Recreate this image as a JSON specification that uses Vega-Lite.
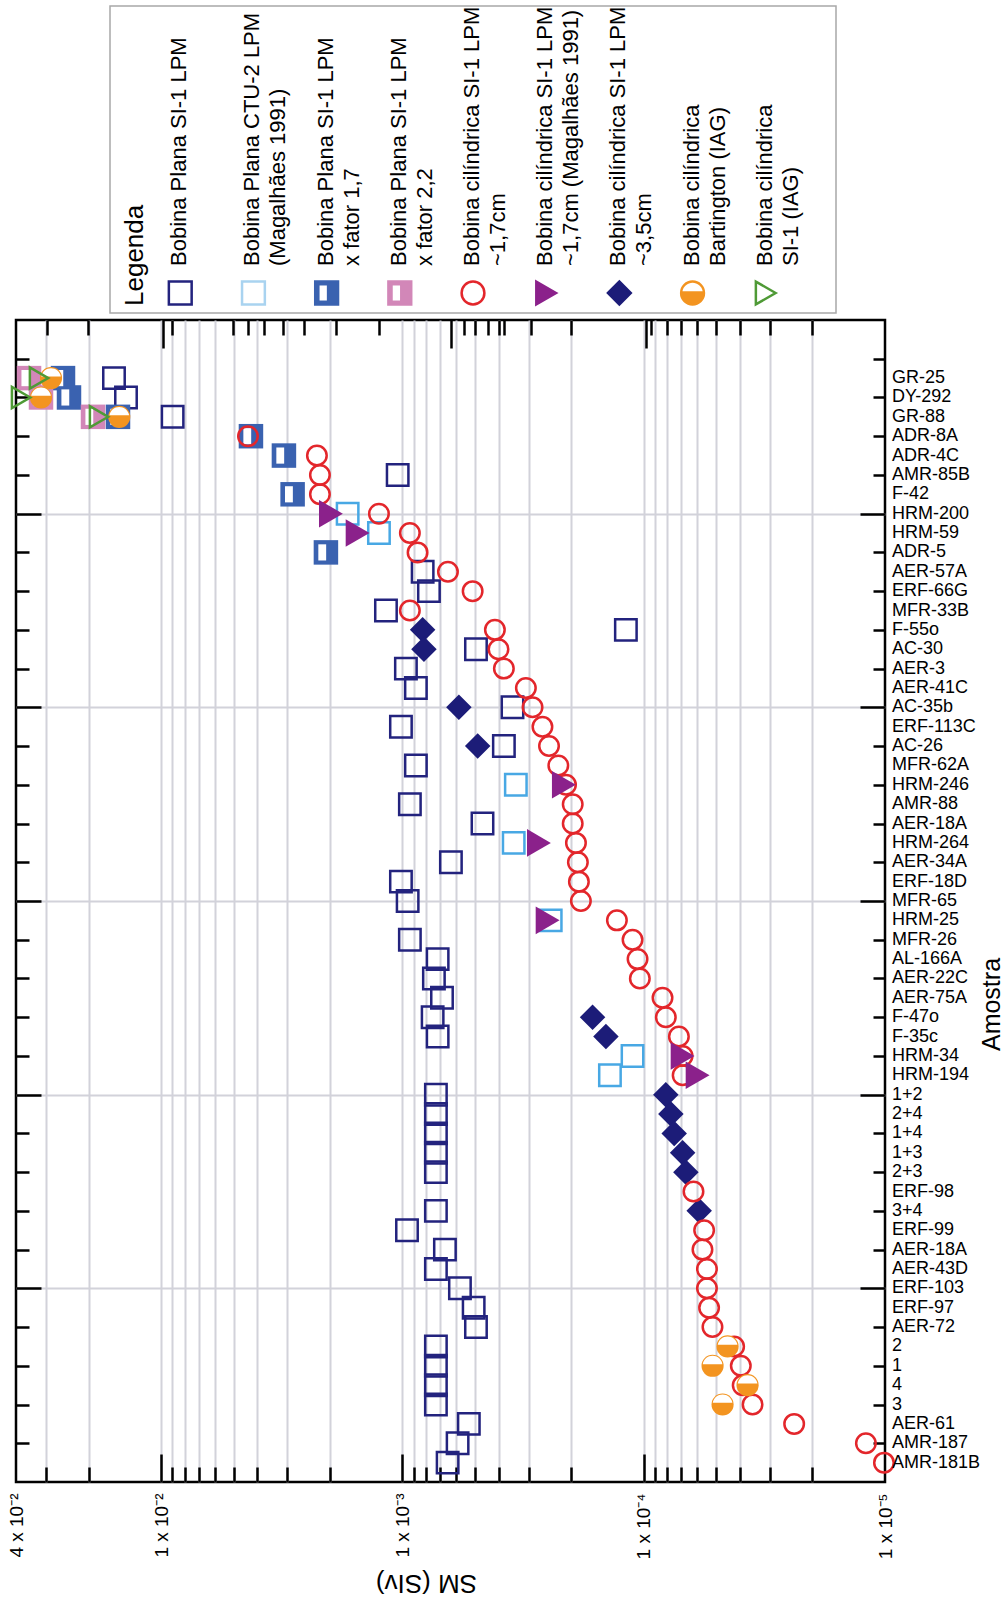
{
 "$schema": "https://vega.github.io/schema/vega-lite/v6.json",
 "padding": {"left": 5, "top": 5, "right": 0, "bottom": 0},
 "background": "white",
 "spacing": 3,
 "config": {
  "view": {"stroke": null},
  "font": "Liberation Sans",
  "axis": {"labelFont": "Liberation Sans", "titleFont": "Liberation Sans", "labelColor": "black", "titleColor": "black", "tickColor": "black", "tickWidth": 2.5, "gridColor": "#d2d2da", "gridWidth": 2, "domain": false, "titleFontWeight": "normal", "labelFlush": false, "labelOverlap": false, "labelBound": false}
 },
 "datasets": {
  "leg": [
   {"s": "plana", "label": "Bobina Plana SI-1 LPM"},
   {"s": "ctu2", "label": "Bobina Plana CTU-2 LPM\n (Magalhães 1991)"},
   {"s": "f17", "label": "Bobina Plana SI-1 LPM\nx fator 1,7"},
   {"s": "f22", "label": "Bobina Plana SI-1 LPM\nx fator 2,2"},
   {"s": "cil17", "label": "Bobina cilíndrica SI-1 LPM\n  ~1,7cm"},
   {"s": "mag17", "label": "Bobina cilíndrica SI-1 LPM\n ~1,7cm (Magalhães 1991)"},
   {"s": "cil35", "label": "Bobina cilíndrica SI-1 LPM\n      ~3,5cm"},
   {"s": "bart", "label": "Bobina cilíndrica\n Bartington (IAG)"},
   {"s": "iag", "label": "Bobina cilíndrica\nSI-1 (IAG)"}
  ],
  "head": [{"h": "Legenda"}],
  "samples": [
   {"i": 0, "name": "GR-25"}, {"i": 1, "name": "DY-292"}, {"i": 2, "name": "GR-88"}, {"i": 3, "name": "ADR-8A"}, {"i": 4, "name": "ADR-4C"}, {"i": 5, "name": "AMR-85B"}, {"i": 6, "name": "F-42"}, {"i": 7, "name": "HRM-200"}, {"i": 8, "name": "HRM-59"}, {"i": 9, "name": "ADR-5"},
   {"i": 10, "name": "AER-57A"}, {"i": 11, "name": "ERF-66G"}, {"i": 12, "name": "MFR-33B"}, {"i": 13, "name": "F-55o"}, {"i": 14, "name": "AC-30"}, {"i": 15, "name": "AER-3"}, {"i": 16, "name": "AER-41C"}, {"i": 17, "name": "AC-35b"}, {"i": 18, "name": "ERF-113C"}, {"i": 19, "name": "AC-26"},
   {"i": 20, "name": "MFR-62A"}, {"i": 21, "name": "HRM-246"}, {"i": 22, "name": "AMR-88"}, {"i": 23, "name": "AER-18A"}, {"i": 24, "name": "HRM-264"}, {"i": 25, "name": "AER-34A"}, {"i": 26, "name": "ERF-18D"}, {"i": 27, "name": "MFR-65"}, {"i": 28, "name": "HRM-25"}, {"i": 29, "name": "MFR-26"},
   {"i": 30, "name": "AL-166A"}, {"i": 31, "name": "AER-22C"}, {"i": 32, "name": "AER-75A"}, {"i": 33, "name": "F-47o"}, {"i": 34, "name": "F-35c"}, {"i": 35, "name": "HRM-34"}, {"i": 36, "name": "HRM-194"}, {"i": 37, "name": "1+2"}, {"i": 38, "name": "2+4"}, {"i": 39, "name": "1+4"},
   {"i": 40, "name": "1+3"}, {"i": 41, "name": "2+3"}, {"i": 42, "name": "ERF-98"}, {"i": 43, "name": "3+4"}, {"i": 44, "name": "ERF-99"}, {"i": 45, "name": "AER-18A"}, {"i": 46, "name": "AER-43D"}, {"i": 47, "name": "ERF-103"}, {"i": 48, "name": "ERF-97"}, {"i": 49, "name": "AER-72"},
   {"i": 50, "name": "2"}, {"i": 51, "name": "1"}, {"i": 52, "name": "4"}, {"i": 53, "name": "3"}, {"i": 54, "name": "AER-61"}, {"i": 55, "name": "AMR-187"}, {"i": 56, "name": "AMR-181B"}
  ],
  "pts": [
   {"s": "plana", "i": 0, "v": 0.0157}, {"s": "plana", "i": 1, "v": 0.014}, {"s": "plana", "i": 2, "v": 0.00897}, {"s": "plana", "i": 5, "v": 0.001047}, {"s": "plana", "i": 10, "v": 0.000825}, {"s": "plana", "i": 11, "v": 0.000777}, {"s": "plana", "i": 12, "v": 0.001171}, {"s": "plana", "i": 13, "v": 0.0001186}, {"s": "plana", "i": 14, "v": 0.000496}, {"s": "plana", "i": 15, "v": 0.000968}, {"s": "plana", "i": 16, "v": 0.00088}, {"s": "plana", "i": 17, "v": 0.00035}, {"s": "plana", "i": 18, "v": 0.001015}, {"s": "plana", "i": 19, "v": 0.00038}, {"s": "plana", "i": 20, "v": 0.00088}, {"s": "plana", "i": 22, "v": 0.000932}, {"s": "plana", "i": 23, "v": 0.000466}, {"s": "plana", "i": 25, "v": 0.00063}, {"s": "plana", "i": 26, "v": 0.001015}, {"s": "plana", "i": 27, "v": 0.000952}, {"s": "plana", "i": 29, "v": 0.000932}, {"s": "plana", "i": 30, "v": 0.000715}, {"s": "plana", "i": 31, "v": 0.000741}, {"s": "plana", "i": 32, "v": 0.000686}, {"s": "plana", "i": 33, "v": 0.00075}, {"s": "plana", "i": 34, "v": 0.000715}, {"s": "plana", "i": 37, "v": 0.000727}, {"s": "plana", "i": 38, "v": 0.000727}, {"s": "plana", "i": 39, "v": 0.000727}, {"s": "plana", "i": 40, "v": 0.000727}, {"s": "plana", "i": 41, "v": 0.000727}, {"s": "plana", "i": 43, "v": 0.000727}, {"s": "plana", "i": 44, "v": 0.000958}, {"s": "plana", "i": 45, "v": 0.000667}, {"s": "plana", "i": 46, "v": 0.000727}, {"s": "plana", "i": 47, "v": 0.000578}, {"s": "plana", "i": 48, "v": 0.000507}, {"s": "plana", "i": 49, "v": 0.000496}, {"s": "plana", "i": 50, "v": 0.000727}, {"s": "plana", "i": 51, "v": 0.000727}, {"s": "plana", "i": 52, "v": 0.000727}, {"s": "plana", "i": 53, "v": 0.000727}, {"s": "plana", "i": 54, "v": 0.000531}, {"s": "plana", "i": 55, "v": 0.000591}, {"s": "plana", "i": 56, "v": 0.00065},
   {"s": "ctu2", "i": 7, "v": 0.001688}, {"s": "ctu2", "i": 8, "v": 0.001252}, {"s": "ctu2", "i": 21, "v": 0.000339}, {"s": "ctu2", "i": 24, "v": 0.000346}, {"s": "ctu2", "i": 28, "v": 0.000243}, {"s": "ctu2", "i": 35, "v": 0.0001113}, {"s": "ctu2", "i": 36, "v": 0.0001381},
   {"s": "f17", "i": 0, "v": 0.02554}, {"s": "f17", "i": 1, "v": 0.02412}, {"s": "f17", "i": 2, "v": 0.01511}, {"s": "f17", "i": 3, "v": 0.004248}, {"s": "f17", "i": 4, "v": 0.003101}, {"s": "f17", "i": 6, "v": 0.002854}, {"s": "f17", "i": 9, "v": 0.002077},
   {"s": "f22", "i": 0, "v": 0.03532}, {"s": "f22", "i": 1, "v": 0.03151}, {"s": "f22", "i": 2, "v": 0.01918},
   {"s": "cil35", "i": 13, "v": 0.000825}, {"s": "cil35", "i": 14, "v": 0.000815}, {"s": "cil35", "i": 17, "v": 0.000584}, {"s": "cil35", "i": 19, "v": 0.000488}, {"s": "cil35", "i": 33, "v": 0.000163}, {"s": "cil35", "i": 34, "v": 0.0001435}, {"s": "cil35", "i": 37, "v": 0.000081}, {"s": "cil35", "i": 38, "v": 0.0000772}, {"s": "cil35", "i": 39, "v": 0.0000748}, {"s": "cil35", "i": 40, "v": 0.000069}, {"s": "cil35", "i": 41, "v": 0.0000669}, {"s": "cil35", "i": 43, "v": 0.0000589},
   {"s": "cil17", "i": 3, "v": 0.00437}, {"s": "cil17", "i": 4, "v": 0.002263}, {"s": "cil17", "i": 5, "v": 0.002199}, {"s": "cil17", "i": 6, "v": 0.002199}, {"s": "cil17", "i": 7, "v": 0.001252}, {"s": "cil17", "i": 8, "v": 0.000932}, {"s": "cil17", "i": 9, "v": 0.000866}, {"s": "cil17", "i": 10, "v": 0.000648}, {"s": "cil17", "i": 11, "v": 0.000512}, {"s": "cil17", "i": 12, "v": 0.000932}, {"s": "cil17", "i": 13, "v": 0.000414}, {"s": "cil17", "i": 14, "v": 0.0004}, {"s": "cil17", "i": 15, "v": 0.00038}, {"s": "cil17", "i": 16, "v": 0.000308}, {"s": "cil17", "i": 17, "v": 0.000289}, {"s": "cil17", "i": 18, "v": 0.000263}, {"s": "cil17", "i": 19, "v": 0.000247}, {"s": "cil17", "i": 20, "v": 0.000226}, {"s": "cil17", "i": 21, "v": 0.00021}, {"s": "cil17", "i": 22, "v": 0.000197}, {"s": "cil17", "i": 23, "v": 0.000197}, {"s": "cil17", "i": 24, "v": 0.000191}, {"s": "cil17", "i": 25, "v": 0.0001875}, {"s": "cil17", "i": 26, "v": 0.0001857}, {"s": "cil17", "i": 27, "v": 0.0001822}, {"s": "cil17", "i": 28, "v": 0.0001292}, {"s": "cil17", "i": 29, "v": 0.0001113}, {"s": "cil17", "i": 30, "v": 0.0001061}, {"s": "cil17", "i": 31, "v": 0.0001038}, {"s": "cil17", "i": 32, "v": 0.0000836}, {"s": "cil17", "i": 33, "v": 0.000081}, {"s": "cil17", "i": 34, "v": 0.0000715}, {"s": "cil17", "i": 35, "v": 0.000069}, {"s": "cil17", "i": 36, "v": 0.000069}, {"s": "cil17", "i": 42, "v": 0.0000622}, {"s": "cil17", "i": 44, "v": 0.0000562}, {"s": "cil17", "i": 45, "v": 0.0000571}, {"s": "cil17", "i": 46, "v": 0.0000547}, {"s": "cil17", "i": 47, "v": 0.0000547}, {"s": "cil17", "i": 48, "v": 0.0000536}, {"s": "cil17", "i": 49, "v": 0.0000519}, {"s": "cil17", "i": 50, "v": 0.0000422}, {"s": "cil17", "i": 51, "v": 0.0000396}, {"s": "cil17", "i": 52, "v": 0.0000389}, {"s": "cil17", "i": 53, "v": 0.0000354}, {"s": "cil17", "i": 54, "v": 0.0000238}, {"s": "cil17", "i": 55, "v": 0.000012}, {"s": "cil17", "i": 56, "v": 0.0000101},
   {"s": "mag17", "i": 7, "v": 0.00198}, {"s": "mag17", "i": 8, "v": 0.001535}, {"s": "mag17", "i": 21, "v": 0.0002143}, {"s": "mag17", "i": 24, "v": 0.000272}, {"s": "mag17", "i": 28, "v": 0.0002503}, {"s": "mag17", "i": 35, "v": 0.000069}, {"s": "mag17", "i": 36, "v": 0.0000598},
   {"s": "bart", "i": 0, "v": 0.02864}, {"s": "bart", "i": 1, "v": 0.03151}, {"s": "bart", "i": 2, "v": 0.01493}, {"s": "bart", "i": 50, "v": 0.00004494}, {"s": "bart", "i": 51, "v": 0.00005185}, {"s": "bart", "i": 52, "v": 0.00003713}, {"s": "bart", "i": 53, "v": 0.00004713},
   {"s": "iag", "i": 0, "v": 0.0321}, {"s": "iag", "i": 1, "v": 0.0381}, {"s": "iag", "i": 2, "v": 0.0181}
  ]
 },
 "vconcat": [
  {
   "spacing": 0,
   "hconcat": [
    {"width": 93, "height": 307, "data": {"values": []}, "mark": "point"},
    {
     "width": 726, "height": 307,
     "view": {"stroke": "#a8a8a8", "strokeWidth": 1.5},
     "data": {"name": "leg"},
     "encoding": {"x": {"field": "s", "type": "nominal", "sort": null, "scale": {"type": "point", "padding": 0.96}, "axis": null}},
     "resolve": {"scale": {"shape": "independent"}},
     "layer": [
      {
       "mark": {"type": "point", "y": "height", "yOffset": -20, "strokeWidth": 2.5, "opacity": 1, "filled": true},
       "encoding": {
        "shape": {"field": "s", "type": "nominal", "legend": null, "scale": {"domain": ["plana", "ctu2", "f17", "f22", "cil17", "mag17", "cil35", "bart", "iag"], "range": ["square", "square", "square", "square", "circle", "triangle-right", "diamond", "circle", "triangle-right"]}},
        "stroke": {"field": "s", "type": "nominal", "legend": null, "scale": {"domain": ["plana", "ctu2", "f17", "f22", "cil17", "mag17", "cil35", "bart", "iag"], "range": ["#23237e", "#a9d3f0", "#3a62b0", "#d287b8", "#e3262b", "#8b218b", "#1c1c78", "#f39420", "#4f9a36"]}},
        "fill": {"field": "s", "type": "nominal", "legend": null, "scale": {"domain": ["plana", "ctu2", "f17", "f22", "cil17", "mag17", "cil35", "bart", "iag"], "range": ["transparent", "transparent", "#3a62b0", "#d287b8", "transparent", "#8b218b", "#1c1c78", "#f39420", "transparent"]}},
        "size": {"field": "s", "type": "ordinal", "legend": null, "scale": {"domain": ["plana", "ctu2", "f17", "f22", "cil17", "mag17", "cil35", "bart", "iag"], "range": [520, 520, 600, 600, 440, 760, 650, 500, 560]}}
       }
      },
      {
       "transform": [{"filter": "datum.s == 'f17' || datum.s == 'f22' || datum.s == 'bart'"}],
       "mark": {"type": "point", "y": "height", "yOffset": -20, "fill": "white", "strokeWidth": 0, "opacity": 1, "filled": true},
       "encoding": {
        "shape": {"field": "s", "type": "nominal", "legend": null, "scale": {"domain": ["f17", "f22", "bart"], "range": ["M-0.62,-0.66L0.02,-0.66L0.02,0.66L-0.62,0.66Z", "M-0.62,-0.66L0.02,-0.66L0.02,0.66L-0.62,0.66Z", "M-0.887,-0.15A0.9,0.9 0 0 1 0.887,-0.15Z"]}},
        "size": {"field": "s", "type": "ordinal", "legend": null, "scale": {"domain": ["plana", "ctu2", "f17", "f22", "cil17", "mag17", "cil35", "bart", "iag"], "range": [520, 520, 600, 600, 440, 760, 650, 500, 560]}}
       }
      },
      {
       "mark": {"type": "text", "y": "height", "yOffset": -47, "angle": -90, "align": "left", "baseline": "top", "dy": -11, "fontSize": 22, "lineHeight": 26, "lineBreak": "\n", "font": "Liberation Sans", "color": "black"},
       "encoding": {"text": {"field": "label"}}
      },
      {
       "data": {"name": "head"},
       "mark": {"type": "text", "y": "height", "yOffset": -7, "xOffset": -45, "angle": -90, "align": "left", "baseline": "middle", "fontSize": 26, "font": "Liberation Sans", "color": "black"},
       "encoding": {"x": {"datum": "plana", "type": "nominal"}, "text": {"field": "h"}}
      }
     ]
    }
   ]
  },
  {
   "width": 869, "height": 1162,
   "view": {"stroke": "black", "strokeWidth": 2.5},
   "data": {"name": "pts"},
   "encoding": {
    "x": {"field": "v", "type": "quantitative", "scale": {"type": "log", "domain": [0.00001, 0.04], "reverse": true, "nice": false, "zero": false}, "axis": null},
    "y": {"field": "i", "type": "quantitative", "scale": {"domain": [-3, 57], "reverse": true, "nice": false, "zero": false}, "axis": null}
   },
   "resolve": {"axis": {"x": "independent", "y": "independent"}},
   "layer": [
    {
     "transform": [{"filter": "datum.s == 'plana'"}],
     "mark": {"type": "point", "shape": "square", "size": 460, "filled": false, "color": "#23237e", "strokeWidth": 2.5, "opacity": 1},
     "encoding": {
      "x": {"field": "v", "type": "quantitative", "scale": {"type": "log", "domain": [0.00001, 0.04], "reverse": true, "nice": false, "zero": false},
            "axis": {"orient": "bottom", "values": [0.04, 0.01, 0.001, 0.0001, 0.00001], "labelExpr": "datum.value > 0.03 ? '4 x 10⁻²' : datum.value > 0.005 ? '1 x 10⁻²' : datum.value > 0.0005 ? '1 x 10⁻³' : datum.value > 0.00005 ? '1 x 10⁻⁴' : '1 x 10⁻⁵'", "labelAngle": -90, "labelFontSize": 19, "labelPadding": 11, "ticks": false, "grid": false, "title": "SM (SIv)", "titleAngle": 180, "titleFontSize": 26, "titleX": 410, "titleY": 100, "titleAlign": "center", "titleBaseline": "middle"}},
      "y": {"field": "i", "type": "quantitative", "scale": {"domain": [-3, 57], "reverse": true, "nice": false, "zero": false},
            "axis": {"orient": "right", "values": [0], "labels": false, "ticks": false, "grid": false, "title": "Amostra", "titleAngle": -90, "titleFontSize": 25, "titleX": 106, "titleY": 684, "titleAlign": "center", "titleBaseline": "middle"}}
     }
    },
    {
     "transform": [{"filter": "datum.s == 'ctu2'"}],
     "mark": {"type": "point", "shape": "square", "size": 460, "filled": false, "color": "#48a8e4", "strokeWidth": 2.5, "opacity": 1},
     "encoding": {
      "x": {"field": "v", "type": "quantitative", "scale": {"type": "log", "domain": [0.00001, 0.04], "reverse": true, "nice": false, "zero": false},
            "axis": {"orient": "bottom", "values": [0.03, 0.02, 0.009, 0.008, 0.007, 0.006, 0.005, 0.004, 0.003, 0.002, 0.0009, 0.0008, 0.0007, 0.0006, 0.0005, 0.0004, 0.0003, 0.0002, 0.00009, 0.00008, 0.00007, 0.00006, 0.00005, 0.00004, 0.00003, 0.00002], "labels": false, "tickSize": -15, "grid": true, "title": null}},
      "y": {"field": "i", "type": "quantitative", "scale": {"domain": [-3, 57], "reverse": true, "nice": false, "zero": false},
            "axis": {"orient": "right", "values": [-1, 1, 3, 5, 9, 11, 13, 15, 19, 21, 23, 25, 29, 31, 33, 35, 39, 41, 43, 45, 49, 51, 53, 55], "labels": false, "tickSize": -12, "grid": false, "title": null}}
     }
    },
    {
     "transform": [{"filter": "datum.s == 'f17'"}],
     "mark": {"type": "point", "shape": "square", "size": 600, "filled": true, "color": "#3a62b0", "opacity": 1},
     "encoding": {
      "x": {"field": "v", "type": "quantitative", "scale": {"type": "log", "domain": [0.00001, 0.04], "reverse": true, "nice": false, "zero": false},
            "axis": {"orient": "bottom", "values": [0.01, 0.001, 0.0001], "labels": false, "tickSize": -28, "grid": true, "title": null}},
      "y": {"field": "i", "type": "quantitative", "scale": {"domain": [-3, 57], "reverse": true, "nice": false, "zero": false},
            "axis": {"orient": "right", "values": [7, 17, 27, 37, 47], "labels": false, "tickSize": -25, "grid": true, "title": null}}
     }
    },
    {
     "transform": [{"filter": "datum.s == 'f17'"}],
     "mark": {"type": "point", "shape": "M-0.62,-0.66L0.02,-0.66L0.02,0.66L-0.62,0.66Z", "size": 600, "filled": true, "color": "white", "opacity": 1},
     "encoding": {
      "x": {"field": "v", "type": "quantitative", "scale": {"type": "log", "domain": [0.00001, 0.04], "reverse": true, "nice": false, "zero": false},
            "axis": {"orient": "top", "values": [0.02984, 0.02018, 0.009054, 0.005058, 0.004357, 0.003763, 0.003139, 0.002554, 0.001888, 0.001249, 0.000558, 0.000501, 0.000441, 0.000399, 0.000381, 0.000294, 0.0002, 0.0000934, 0.00008, 0.00007, 0.00006, 0.00005, 0.00004, 0.00003, 0.00002], "labels": false, "tickSize": -15, "grid": false, "title": null}},
      "y": {"field": "i", "type": "quantitative", "scale": {"domain": [-3, 57], "reverse": true, "nice": false, "zero": false},
            "axis": {"orient": "left", "values": [-1, 1, 3, 5, 9, 11, 13, 15, 19, 21, 23, 25, 29, 31, 33, 35, 39, 41, 43, 45, 49, 51, 53, 55], "labels": false, "tickSize": -13, "grid": false, "title": null}}
     }
    },
    {
     "transform": [{"filter": "datum.s == 'f22'"}],
     "mark": {"type": "point", "shape": "square", "size": 600, "filled": true, "color": "#d287b8", "opacity": 1},
     "encoding": {
      "x": {"field": "v", "type": "quantitative", "scale": {"type": "log", "domain": [0.00001, 0.04], "reverse": true, "nice": false, "zero": false},
            "axis": {"orient": "top", "values": [0.00987, 0.00063, 0.000098], "labels": false, "tickSize": -28, "grid": false, "title": null}},
      "y": {"field": "i", "type": "quantitative", "scale": {"domain": [-3, 57], "reverse": true, "nice": false, "zero": false},
            "axis": {"orient": "left", "values": [7, 17, 27, 37, 47], "labels": false, "tickSize": -25, "grid": false, "title": null}}
     }
    },
    {
     "transform": [{"filter": "datum.s == 'f22'"}],
     "mark": {"type": "point", "shape": "M-0.62,-0.66L0.02,-0.66L0.02,0.66L-0.62,0.66Z", "size": 600, "filled": true, "color": "white", "opacity": 1}
    },
    {
     "transform": [{"filter": "datum.s == 'cil35'"}],
     "mark": {"type": "point", "shape": "diamond", "size": 650, "filled": true, "color": "#1c1c78", "opacity": 1}
    },
    {
     "transform": [{"filter": "datum.s == 'cil17'"}],
     "mark": {"type": "point", "shape": "circle", "size": 380, "filled": false, "color": "#e3262b", "strokeWidth": 2.5, "opacity": 1}
    },
    {
     "transform": [{"filter": "datum.s == 'mag17'"}],
     "mark": {"type": "point", "shape": "triangle-right", "size": 760, "filled": true, "color": "#8b218b", "opacity": 1}
    },
    {
     "transform": [{"filter": "datum.s == 'bart'"}],
     "mark": {"type": "point", "shape": "circle", "size": 490, "filled": true, "color": "#f39420", "opacity": 1}
    },
    {
     "transform": [{"filter": "datum.s == 'bart'"}],
     "mark": {"type": "point", "shape": "M-0.887,-0.15A0.9,0.9 0 0 1 0.887,-0.15Z", "size": 490, "filled": true, "color": "white", "opacity": 1}
    },
    {
     "transform": [{"filter": "datum.s == 'iag'"}],
     "mark": {"type": "point", "shape": "triangle-right", "size": 450, "filled": false, "color": "#4f9a36", "strokeWidth": 2.5, "opacity": 1}
    },
    {
     "data": {"name": "samples"},
     "mark": {"type": "text", "align": "left", "baseline": "middle", "dx": 7, "fontSize": 18, "font": "Liberation Sans", "color": "black"},
     "encoding": {
      "x": {"value": "width"},
      "text": {"field": "name"}
     }
    }
   ]
  }
 ]
}
